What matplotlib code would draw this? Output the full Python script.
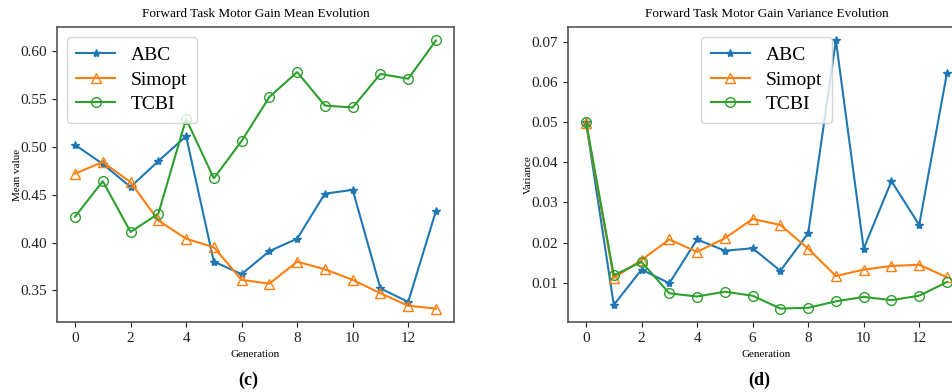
import matplotlib
matplotlib.use("Agg")
import matplotlib.pyplot as plt
import numpy as np

plt.rcParams['font.family'] = ['Liberation Serif', 'DejaVu Serif']

generations = list(range(14))

mean_abc = [0.502, 0.482, 0.458, 0.485, 0.511, 0.380, 0.367, 0.391, 0.404, 0.451, 0.455, 0.352, 0.338, 0.433]
mean_simopt = [0.472, 0.484, 0.463, 0.423, 0.404, 0.395, 0.361, 0.357, 0.380, 0.372, 0.361, 0.347, 0.334, 0.331]
mean_tcbi = [0.427, 0.464, 0.411, 0.430, 0.529, 0.467, 0.506, 0.552, 0.578, 0.543, 0.541, 0.576, 0.571, 0.611]

var_abc = [0.0500, 0.0045, 0.0133, 0.0099, 0.0208, 0.0180, 0.0186, 0.0130, 0.0223, 0.0703, 0.0185, 0.0353, 0.0244, 0.0622]
var_simopt = [0.0497, 0.0112, 0.0157, 0.0208, 0.0177, 0.0211, 0.0259, 0.0244, 0.0185, 0.0117, 0.0133, 0.0142, 0.0145, 0.0114]
var_tcbi = [0.0500, 0.0119, 0.0152, 0.0074, 0.0066, 0.0078, 0.0068, 0.0036, 0.0038, 0.0054, 0.0065, 0.0057, 0.0068, 0.0102]

series_names = ['ABC', 'Simopt', 'TCBI']
colors = ['#1f77b4', '#ff7f0e', '#2ca02c']

fig = plt.figure(figsize=(9.53, 3.92), dpi=100)
ax1 = fig.add_axes([0.0598, 0.1786, 0.4166, 0.7524])
ax2 = fig.add_axes([0.596, 0.1786, 0.4166, 0.7524])

def draw(ax, data, title, ylabel, legend_loc):
    styles = [dict(marker='*', markersize=6),
              dict(marker='^', markersize=7, markerfacecolor='none'),
              dict(marker='o', markersize=7, markerfacecolor='none')]
    for vals, name, c, st in zip(data, series_names, colors, styles):
        ax.plot(generations, vals, color=c, lw=1.5, label=name, **st)
    ax.set_title(title, fontsize=9.5, pad=7)
    ax.set_xlabel('Generation', fontsize=8)
    ax.set_ylabel(ylabel, fontsize=8, labelpad=-1)
    ax.set_xticks(range(0, 14, 2))
    ax.tick_params(labelsize=11, colors='#222222')
    for s in ax.spines.values():
        s.set_color('#555555')
        s.set_linewidth(1.2)
    ax.legend(loc=legend_loc, fontsize=14, handlelength=2.0, borderpad=0.5,
              labelspacing=0.35, framealpha=0.8)

draw(ax1, [mean_abc, mean_simopt, mean_tcbi], 'Forward Task Motor Gain Mean Evolution',
     'Mean value', 'upper left')
draw(ax2, [var_abc, var_simopt, var_tcbi], 'Forward Task Motor Gain Variance Evolution',
     'Variance', 'upper center')
ax1.set_yticks([0.35, 0.40, 0.45, 0.50, 0.55, 0.60])
ax1.set_yticklabels(['0.35', '0.40', '0.45', '0.50', '0.55', '0.60'])
ax2.set_yticks([0.01, 0.02, 0.03, 0.04, 0.05, 0.06, 0.07])
ax2.set_yticklabels(['0.01', '0.02', '0.03', '0.04', '0.05', '0.06', '0.07'])

fig.text(0.26, 0.03, '(c)', ha='center', va='center', fontsize=13, fontweight='bold')
fig.text(0.797, 0.03, '(d)', ha='center', va='center', fontsize=13, fontweight='bold')

fig.savefig('out.png', dpi=100)
